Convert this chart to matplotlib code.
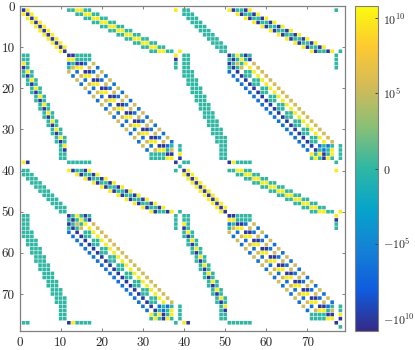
import numpy as np
import matplotlib
matplotlib.use("Agg")
import matplotlib.pyplot as plt
from matplotlib.colors import FuncNorm, LinearSegmentedColormap

plt.rcParams['font.family'] = 'cmr10'
plt.rcParams['mathtext.fontset'] = 'cm'
plt.rcParams['axes.unicode_minus'] = False

# value of each cell kind
cell_values = {'y': 1e10, 'd': -1e10, 't': 0.0, 'b': -3e6, 'o': 3e5}

axis_ticks = [0, 10, 20, 30, 40, 50, 60, 70]
cbar_ticks = [-1e10, -1e5, 0, 1e5, 1e10]
cbar_labels = [r'$-10^{10}$', r'$-10^{5}$', r'$0$', r'$10^{5}$', r'$10^{10}$']

# one string per matrix row (1 based): "first column:cells", '.' is an empty cell
row_cells = [
    "1:dy 12:ttyytt 38:y 40:tt 51:ydttdy 77:t",
    "1:ydy 14:ttyytt 40:ttt 53:ydttdy",
    "2:ydy 16:ttyytt 41:ttt 55:ydttdy",
    "3:ydy 18:ttyytt 42:ttt 57:ydttdy",
    "4:ydy 20:ttyytt 43:ttt 59:ydttdy",
    "5:ydy 22:ttyytt 44:ttt 61:ydttdy",
    "6:ydy 24:ttyytt 45:ttt 63:ydttdy",
    "7:ydy 26:ttyytt 46:ttt 65:ydttdy",
    "8:ydy 28:ttyytt 47:ttt 67:ydttdy",
    "9:ydy 30:ttyytt 48:ttt 69:ydttdy",
    "10:yd 32:ttyytt 39:y 49:tt 71:ydttdy 78:t",
    "1:tt 12:ddtttt 38:y 40:tt 51:dtytdt 77:t",
    "1:tt 12:yytttt 38:d 40:tt 51:tdtytd 77:t",
    "1:yt 12:btddb.o 38:t 40:tt 51:dtoty.o 77:t",
    "1:dt 12:toyy.o.b 38:t 40:tt 51:tdto.y.o 77:t",
    "1:tyt 12:o.b.ddb.o 40:ttt 51:b.d.tty.o",
    "1:tdt 13:b.oyy.o.b 40:ttt 52:b.dtt.y.o",
    "2:tyt 14:o.b.ddb.o 41:ttt 53:b.d.tty.o",
    "2:tdt 15:b.oyy.o.b 41:ttt 54:b.dtt.y.o",
    "3:tyt 16:o.b.ddb.o 42:ttt 55:b.d.tty.o",
    "3:tdt 17:b.oyy.o.b 42:ttt 56:b.dtt.y.o",
    "4:tyt 18:o.b.ddb.o 43:ttt 57:b.d.tty.o",
    "4:tdt 19:b.oyy.o.b 43:ttt 58:b.dtt.y.o",
    "5:tyt 20:o.b.ddb.o 44:ttt 59:b.d.tty.o",
    "5:tdt 21:b.oyy.o.b 44:ttt 60:b.dtt.y.o",
    "6:tyt 22:o.b.ddb.o 45:ttt 61:b.d.tty.o",
    "6:tdt 23:b.oyy.o.b 45:ttt 62:b.dtt.y.o",
    "7:tyt 24:o.b.ddb.o 46:ttt 63:b.d.tty.o",
    "7:tdt 25:b.oyy.o.b 46:ttt 64:b.dtt.y.o",
    "8:tyt 26:o.b.ddb.o 47:ttt 65:b.d.tty.o",
    "8:tdt 27:b.oyy.o.b 47:ttt 66:b.dtt.y.o",
    "9:tyt 28:o.b.ddb.o 48:ttt 67:b.d.tty.o",
    "9:tdt 29:b.oyy.o.b 48:ttt 68:b.dtt.y.o",
    "10:ty 30:o.b.ddbt 39:t 49:tt 69:b.d.btbt 78:t",
    "10:td 31:b.oyyto 39:t 49:tt 70:b.dtbty 78:t",
    "10:tt 32:ttttdd 39:y 49:tt 71:ytydty 78:t",
    "10:tt 32:ttttyy 39:d 49:tt 71:tytdyt 78:t",
    "1:yd 12:tttttt 38:d 40:tt 51:dytttt 77:t",
    "39:t",
    "1:tt 12:ydttdy 38:t 40:dy 51:ttyytt 77:y",
    "1:ttt 14:ydttdy 40:ydy 53:ttyytt",
    "2:ttt 16:ydttdy 41:ydy 55:ttyytt",
    "3:ttt 18:ydttdy 42:ydy 57:ttyytt",
    "4:ttt 20:ydttdy 43:ydy 59:ttyytt",
    "5:ttt 22:ydttdy 44:ydy 61:ttyytt",
    "6:ttt 24:ydttdy 45:ydy 63:ttyytt",
    "7:ttt 26:ydttdy 46:ydy 65:ttyytt",
    "8:ttt 28:ydttdy 47:ydy 67:ttyytt",
    "9:ttt 30:ydttdy 48:ydy 69:ttyytt",
    "10:tt 32:ydttdy 39:t 49:yd 71:ttyytt 78:y",
    "1:tt 12:dtytdt 38:t 40:tt 51:ddtttt 77:y",
    "1:tt 12:tdtytd 38:t 40:tt 51:yytttt 77:d",
    "1:tt 12:dtoty.o 38:t 40:yt 51:btddb.o 77:t",
    "1:tt 12:tdto.y.o 38:t 40:dt 51:toyy.o.b 77:t",
    "1:ttt 12:b.d.tty.o 40:tyt 51:o.b.ddb.o",
    "1:ttt 13:b.dtt.y.o 40:tdt 52:b.oyy.o.b",
    "2:ttt 14:b.d.tty.o 41:tyt 53:o.b.ddb.o",
    "2:ttt 15:b.dtt.y.o 41:tdt 54:b.oyy.o.b",
    "3:ttt 16:b.d.tty.o 42:tyt 55:o.b.ddb.o",
    "3:ttt 17:b.dtt.y.o 42:tdt 56:b.oyy.o.b",
    "4:ttt 18:b.d.tty.o 43:tyt 57:o.b.ddb.o",
    "4:ttt 19:b.dtt.y.o 43:tdt 58:b.oyy.o.b",
    "5:ttt 20:b.d.tty.o 44:tyt 59:o.b.ddb.o",
    "5:ttt 21:b.dtt.y.o 44:tdt 60:b.oyy.o.b",
    "6:ttt 22:b.d.tty.o 45:tyt 61:o.b.ddb.o",
    "6:ttt 23:b.dtt.y.o 45:tdt 62:b.oyy.o.b",
    "7:ttt 24:b.d.tty.o 46:tyt 63:o.b.ddb.o",
    "7:ttt 25:b.dtt.y.o 46:tdt 64:b.oyy.o.b",
    "8:ttt 26:b.d.tty.o 47:tyt 65:o.b.ddb.o",
    "8:ttt 27:b.dtt.y.o 47:tdt 66:b.oyy.o.b",
    "9:ttt 28:b.d.tty.o 48:tyt 67:o.b.ddb.o",
    "9:ttt 29:b.dtt.y.o 48:tdt 68:b.oyy.o.b",
    "10:tt 30:b.d.btbt 39:t 49:ty 69:o.b.ddbt 78:t",
    "10:tt 31:b.dtbty 39:t 49:td 70:b.oyyto 78:t",
    "10:tt 32:ytydty 39:t 49:tt 71:ttttdd 78:y",
    "10:tt 32:tytdyt 39:t 49:tt 71:ttttyy 78:d",
    "1:tt 12:dytttt 38:t 40:yd 51:tttttt 77:d",
    "78:t",
]

parula = LinearSegmentedColormap.from_list('parula', [
    '#352a87', '#0f5cdd', '#1481d6', '#06a4ca', '#2eb7a4',
    '#87bf77', '#d1bb59', '#fec832', '#f9fb0e'])


def symlog(x):
    return np.sign(x)*np.log10(1 + np.abs(x))


def symexp(u):
    return np.sign(u)*(10**np.abs(u) - 1)


rows, cols, vals = [], [], []
for i, line in enumerate(row_cells):
    for seg in line.split():
        start, cells = seg.split(':')
        for k, ch in enumerate(cells):
            if ch != '.':
                rows.append(i + 1)
                cols.append(int(start) + k)
                vals.append(cell_values[ch])

W, H = 415, 350
fig = plt.figure(figsize=(W/100, H/100), dpi=100)
ax = fig.add_axes([19.5/W, 1 - 331/H, 325/W, 325/H])

vmax = symexp(10.83)
norm = FuncNorm((symlog, symexp), vmin=-vmax, vmax=vmax)
sc = ax.scatter(cols, rows, c=vals, s=6.6, marker='s', cmap=parula, norm=norm, linewidths=0)
sc.set_snap(False)

ax.set_xlim(0, 79)
ax.set_ylim(79, 0)
ax.set_xticks(axis_ticks)
ax.set_yticks(axis_ticks)
ax.tick_params(direction='in', length=2.5, width=0.7, color='#808080', top=True, right=True,
               labelsize=9.5, labelcolor='#262626')
ax.tick_params(axis='x', pad=4.5)
ax.tick_params(axis='y', pad=3.5)
for sp in ax.spines.values():
    sp.set_color('#808080')
    sp.set_linewidth(0.9)

cax = fig.add_axes([355.3/W, 1 - 331/H, 22.4/W, 325/H])
cb = fig.colorbar(sc, cax=cax, ticks=cbar_ticks)
cb.ax.set_yticklabels(cbar_labels)
cb.ax.minorticks_off()
cb.ax.tick_params(direction='in', length=2.5, width=0.7, color='#404040', labelsize=8.6, pad=3.6,
                  labelcolor='#262626')
cb.outline.set_edgecolor('#808080')
cb.outline.set_linewidth(0.8)

fig.savefig('out.png', dpi=100)
